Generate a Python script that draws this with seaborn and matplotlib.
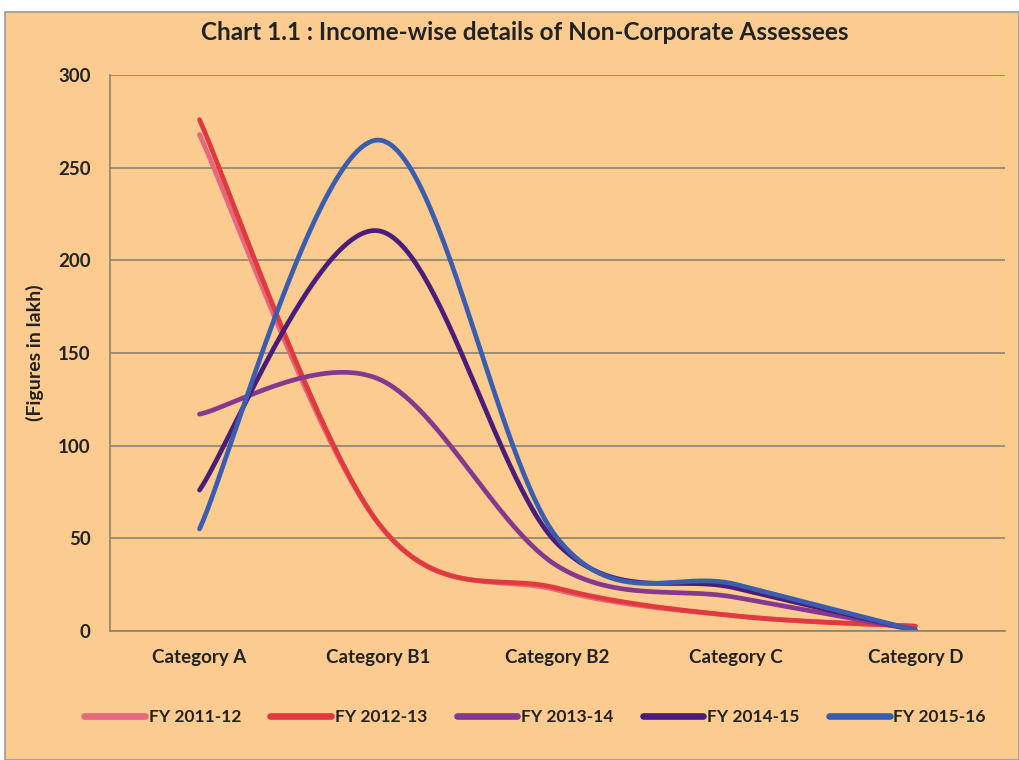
import numpy as np
import pandas as pd
import matplotlib
matplotlib.use("Agg")
import matplotlib.pyplot as plt
import seaborn as sns
from matplotlib.patches import Rectangle

categories = ["Category A", "Category B1", "Category B2", "Category C", "Category D"]
series_names = ["FY 2011-12", "FY 2012-13", "FY 2013-14", "FY 2014-15", "FY 2015-16"]
fy_2011_12 = [268, 58, 22, 8, 2.5]
fy_2012_13 = [276, 58, 23, 8, 2.5]
fy_2013_14 = [117, 136, 35, 18, 0.5]
fy_2014_15 = [76, 216, 47, 23, 0.3]
fy_2015_16 = [55, 265, 50, 25, 0.3]
y_ticks = [0, 50, 100, 150, 200, 250, 300]

colors = ["#E4687E", "#E03A3E", "#86388E", "#4A1E78", "#3B5DB0"]
bg = "#FCCB8F"


def smooth(xs, ys, n=60):
    """Excel-style smoothed line (Catmull-Rom Bezier) through the points."""
    P = np.column_stack([xs, ys]).astype(float)
    m = len(P)
    out = []
    for i in range(m - 1):
        p0 = P[i - 1] if i > 0 else P[i]
        p1 = P[i]
        p2 = P[i + 1]
        p3 = P[i + 2] if i + 2 < m else P[i + 1]
        b1 = p1 + (p2 - p0) / 6.0
        b2 = p2 - (p3 - p1) / 6.0
        t = np.linspace(0, 1, n, endpoint=(i == m - 2))[:, None]
        seg = ((1 - t) ** 3) * p1 + 3 * ((1 - t) ** 2) * t * b1 + 3 * (1 - t) * t ** 2 * b2 + t ** 3 * p2
        out.append(seg)
    return np.vstack(out)


rows = []
for name, vals in zip(series_names, [fy_2011_12, fy_2012_13, fy_2013_14, fy_2014_15, fy_2015_16]):
    pts = smooth(np.arange(len(categories)), vals)
    for k, (xx, yy) in enumerate(pts):
        rows.append({"series": name, "x": xx, "y": yy, "order": k})
df = pd.DataFrame(rows)

sns.set_theme(style="white")
plt.rcParams["font.family"] = ["Lato", "DejaVu Sans"]

fig = plt.figure(figsize=(10.19, 7.6), dpi=100, facecolor="white")
fig.patches.append(Rectangle((0.005, 0.0), 0.995, 1 - 12 / 760, transform=fig.transFigure,
                             facecolor=bg, edgecolor="#9a9a9a", linewidth=1.2, zorder=-10))
ax = fig.add_axes([0.108, 0.170, 0.878, 0.731])
ax.set_facecolor(bg)

sns.lineplot(data=df, x="x", y="y", hue="series", palette=colors, sort=False,
             estimator=None, units="series", linewidth=3.4, ax=ax, legend=True)

ax.set_xlim(-0.5, 4.5)
ax.set_ylim(0, 300)
ax.set_yticks(y_ticks)
ax.set_yticklabels([str(v) for v in y_ticks], fontsize=13.5, fontweight="bold", color="#222222")
ax.set_xticks(range(len(categories)))
ax.set_xticklabels(categories, fontsize=13.5, fontweight="bold", color="#222222")
ax.set_xticks(np.arange(-0.5, 5.0, 1.0), minor=True)
ax.tick_params(axis="x", which="major", length=0, pad=13)
ax.tick_params(axis="x", which="minor", length=5, color="#777777", width=1)
ax.tick_params(axis="y", which="major", length=6, color="#777777", width=1, pad=8)
ax.grid(axis="y", color="#8C8272", linewidth=1.2)
ax.set_axisbelow(True)
for s in ["top", "right"]:
    ax.spines[s].set_visible(False)
for s in ["left", "bottom"]:
    ax.spines[s].set_color("#8C8272")
    ax.spines[s].set_linewidth(1.2)
ax.set_xlabel("")
ax.set_ylabel("(Figures in lakh)", fontsize=14, fontweight="bold", color="#222222", labelpad=10)

fig.text(0.515, 1 - 33 / 760, "Chart 1.1 : Income-wise details of Non-Corporate Assessees",
         ha="center", va="center", fontsize=17.5, fontweight="bold", color="#222222")

handles, labels = ax.get_legend_handles_labels()
ax.get_legend().remove()
for h in handles:
    h.set_linewidth(4.8)
leg = fig.legend(handles, labels, loc="center", bbox_to_anchor=(0.525, 1 - 717 / 760), ncol=5,
                 frameon=False, handlelength=3.5, handletextpad=0.2, columnspacing=1.7,
                 prop={"size": 12.5, "weight": "bold"})
for t in leg.get_texts():
    t.set_color("#222222")

fig.savefig("out.png", dpi=100, facecolor=fig.get_facecolor())
